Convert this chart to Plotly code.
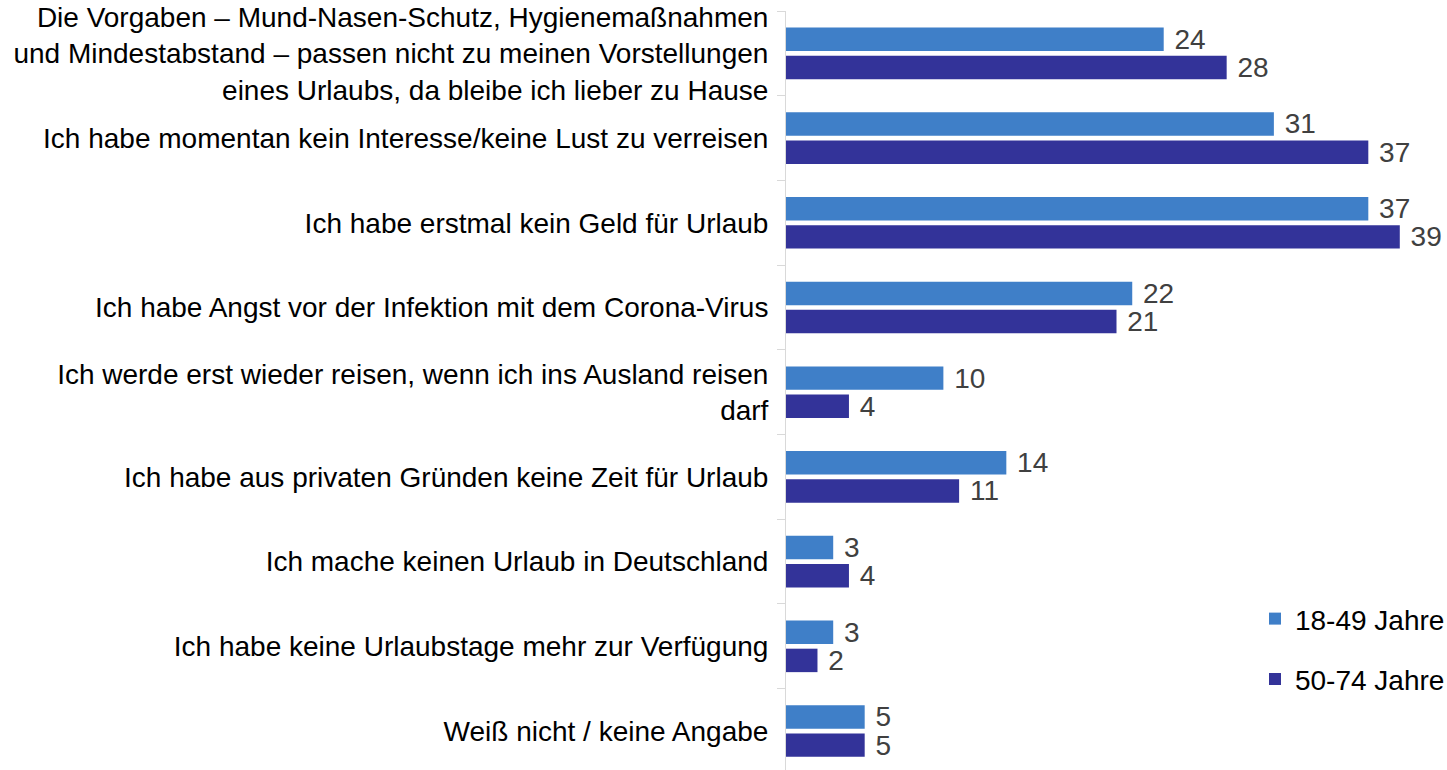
import plotly.graph_objects as go

categories = [
    "Die Vorgaben – Mund-Nasen-Schutz, Hygienemaßnahmen<br>und Mindestabstand – passen nicht zu meinen Vorstellungen<br>eines Urlaubs, da bleibe ich lieber zu Hause",
    "Ich habe momentan kein Interesse/keine Lust zu verreisen",
    "Ich habe erstmal kein Geld für Urlaub",
    "Ich habe Angst vor der Infektion mit dem Corona-Virus",
    "Ich werde erst wieder reisen, wenn ich ins Ausland reisen<br>darf",
    "Ich habe aus privaten Gründen keine Zeit für Urlaub",
    "Ich mache keinen Urlaub in Deutschland",
    "Ich habe keine Urlaubstage mehr zur Verfügung",
    "Weiß nicht / keine Angabe",
]
series_names = ["18-49 Jahre", "50-74 Jahre"]
values_18_49 = [24, 31, 37, 22, 10, 14, 3, 3, 5]
values_50_74 = [28, 37, 39, 21, 4, 11, 4, 2, 5]

colors = ["#3F7FC8", "#333399"]
FONT = "Liberation Sans, Arial, sans-serif"
FS = 28

fig = go.Figure()
for name, vals, col in zip(series_names, [values_18_49, values_50_74], colors):
    fig.add_trace(go.Bar(
        y=categories, x=vals, name=name, orientation="h",
        marker=dict(color=col, line=dict(width=0)),
        text=vals, texttemplate="\u00a0%{x}", textposition="outside",
        constraintext="none",
        textfont=dict(family=FONT, size=FS, color="#404040"),
        cliponaxis=False, legendgroup=name,
    ))

fig.update_layout(
    width=1447, height=770,
    margin=dict(l=786, r=0, t=11, b=0, autoexpand=False),
    paper_bgcolor="white", plot_bgcolor="white",
    barmode="group", bargap=0.335, bargroupgap=0.167,
    font=dict(family=FONT, size=FS, color="#000000"),
    showlegend=True,
    legend=dict(x=0.7095, y=0.232, xanchor="left", yanchor="top",
                font=dict(family=FONT, size=FS, color="#000000"),
                tracegroupgap=21, bgcolor="rgba(0,0,0,0)"),
    xaxis=dict(range=[0, 42.0], showticklabels=False, showgrid=False,
               zeroline=False, showline=False, ticks="", automargin=False),
    yaxis=dict(categoryorder="array", categoryarray=categories,
               range=[8.46, -0.5], showgrid=False, zeroline=False,
               showline=True, linecolor="#D9D9D9", linewidth=1,
               ticks="outside", tickson="boundaries", ticklen=8,
               tickcolor="#D9D9D9", tickwidth=1, automargin=False,
               ticklabelstandoff=11,
               tickfont=dict(family=FONT, size=FS, color="#000000")),
)

fig.write_html(
    "out.html",
    config={"displayModeBar": False},
    post_script="document.body.style.margin='0';document.body.style.overflow='hidden';",
)
